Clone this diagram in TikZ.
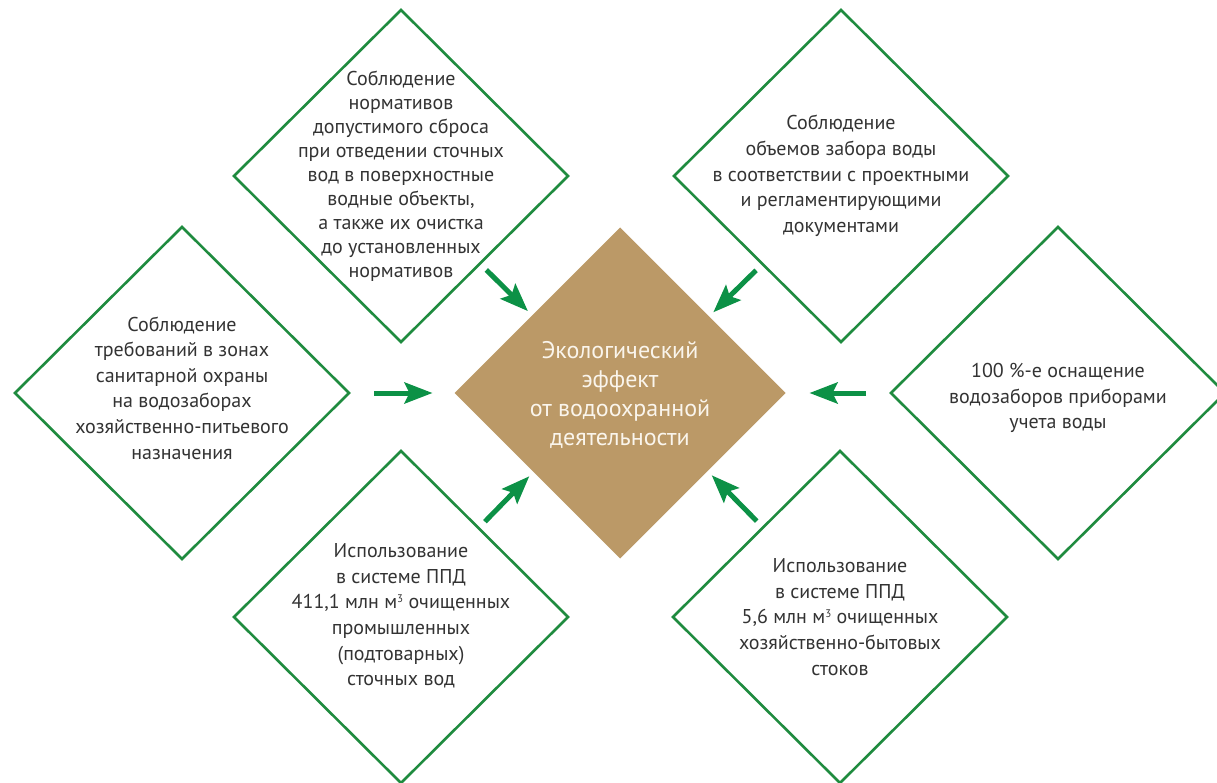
\documentclass[tikz,border=0pt]{standalone}
\usepackage{fontspec}
\setmainfont{PT Sans}
\usetikzlibrary{shapes.geometric,arrows.meta}
\definecolor{dgreen}{HTML}{1F8B3F}
\definecolor{agreen}{HTML}{0C9146}
\definecolor{cbrown}{HTML}{BB9967}
\definecolor{txtc}{HTML}{333333}
\definecolor{ctxt}{HTML}{FAF5EC}
\newcommand{\cubic}{\raisebox{0.62ex}{\fontsize{11}{11}\selectfont 3}}
\begin{document}
\begin{tikzpicture}[x=1pt,y=-1pt,
 dia/.style={diamond, draw=dgreen, line width=2.6pt, minimum width=334pt, minimum height=332pt, inner sep=0pt, outer sep=0pt},
 cdia/.style={diamond, fill=cbrown, minimum width=331pt, minimum height=331pt, inner sep=0pt, outer sep=0pt},
 lbl/.style={align=center, text=txtc, font=\fontsize{20}{25.6}\selectfont, inner sep=0pt},
 clbl/.style={align=center, text=ctxt, font=\fontsize{24}{28.7}\selectfont, inner sep=0pt},
 arr/.style={draw=agreen, line width=5pt, -{Stealth[length=28pt,width=21pt,inset=5pt]}}
]
\clip (0,0) rectangle (1217,783);
\node[cdia] (c) at (620,393) {};
\node[dia] (tl) at (401,176) {};
\node[dia] (tr) at (841,176) {};
\node[dia] (l) at (182,393) {};
\node[dia] (r) at (1058,393) {};
\node[dia] (bl) at (401,617) {};
\node[dia] (br) at (840,617) {};

\node[clbl] (ct) at (620,395) {Экологический\\эффект\\от водоохранной\\деятельности};
\node[lbl, font=\fontsize{20}{24}\selectfont] (tlt) at (401,176) {Соблюдение\\нормативов\\допустимого сброса\\при отведении сточных\\вод в поверхностные\\водные объекты,\\а также их очистка\\до установленных\\нормативов};
\node[lbl] (trt) at (841,176) {Соблюдение\\объемов забора воды\\в соответствии с проектными\\и регламентирующими\\документами};
\node[lbl] (lt) at (182,388) {Соблюдение\\требований в зонах\\санитарной охраны\\на водозаборах\\хозяйственно-питьевого\\назначения};
\node[lbl] (rt) at (1058,398) {100 \%-е оснащение\\водозаборов приборами\\учета воды};
\node[lbl] (blt) at (401,616) {Использование\\в системе ППД\\411,1 млн м\cubic{} очищенных\\промышленных\\(подтоварных)\\сточных вод};
\node[lbl] (brt) at (840,617) {Использование\\в системе ППД\\5,6 млн м\cubic{} очищенных\\хозяйственно-бытовых\\стоков};

\draw[arr, shorten <=25pt, shorten >=22pt] (l) -- (c);
\draw[arr, shorten <=25pt, shorten >=24pt] (r) -- (c);
\draw[arr, shorten <=9pt, shorten >=6pt, transform canvas={shift={(-4.7,4.7)}}] (tl) -- (c);
\draw[arr, shorten <=9pt, shorten >=6pt, transform canvas={shift={(5.5,5.5)}}] (tr) -- (c);
\draw[arr, shorten <=9pt, shorten >=6pt, transform canvas={shift={(-4.7,-4.7)}}] (bl) -- (c);
\draw[arr, shorten <=9pt, shorten >=6pt, transform canvas={shift={(5.5,-5.5)}}] (br) -- (c);
\end{tikzpicture}
\end{document}
